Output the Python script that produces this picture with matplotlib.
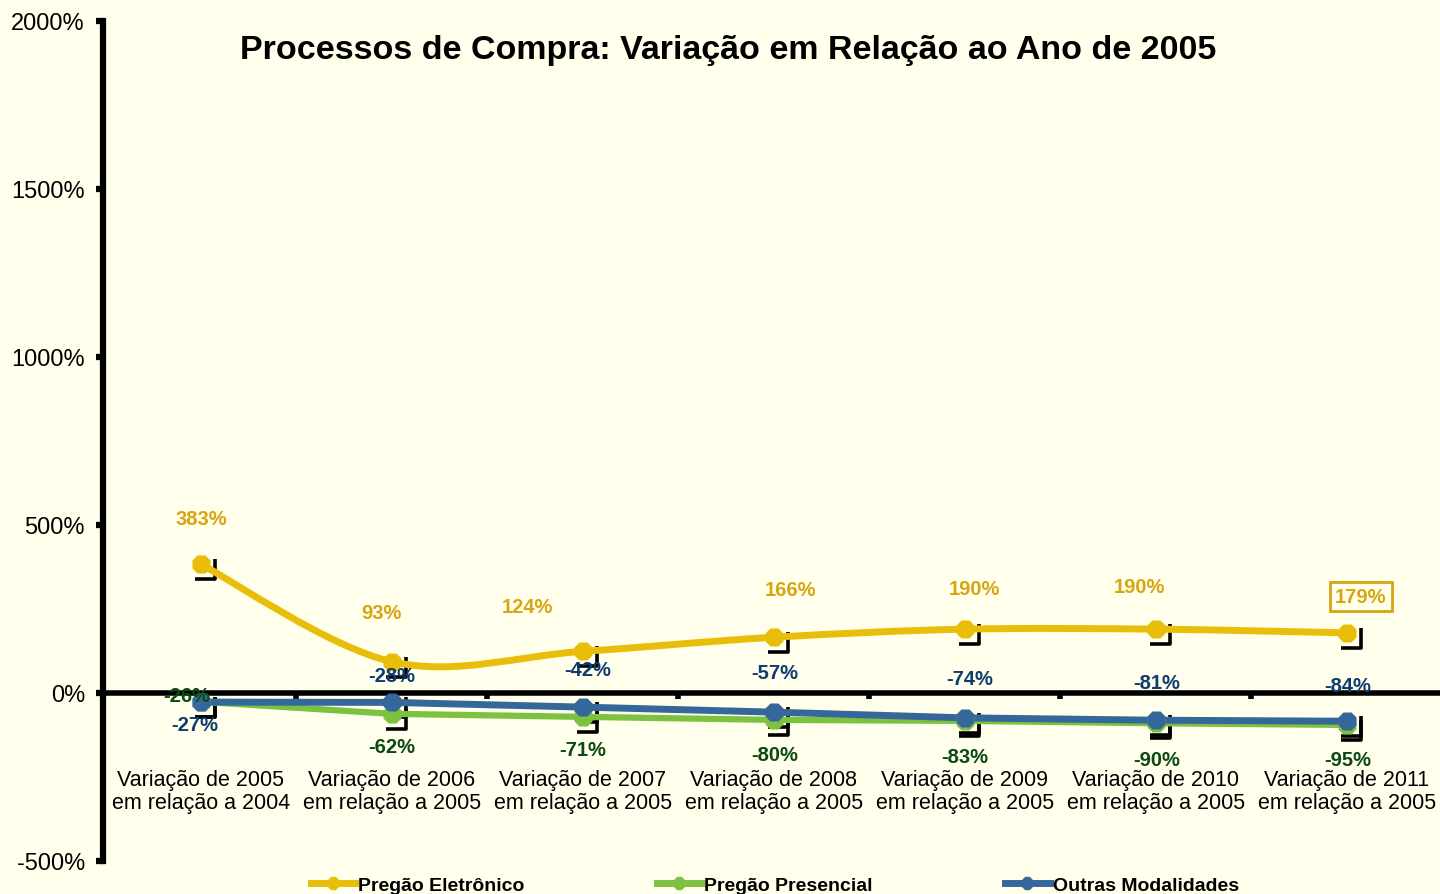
import numpy as np
import matplotlib
matplotlib.use("Agg")
import matplotlib.pyplot as plt
from matplotlib.path import Path
from matplotlib.patches import PathPatch
from matplotlib.lines import Line2D
from matplotlib.transforms import offset_copy

plt.rcParams['font.family'] = ['Liberation Sans', 'DejaVu Sans']

# data
categorias = ["Variação de 2005\nem relação a 2004",
              "Variação de 2006\nem relação a 2005",
              "Variação de 2007\nem relação a 2005",
              "Variação de 2008\nem relação a 2005",
              "Variação de 2009\nem relação a 2005",
              "Variação de 2010\nem relação a 2005",
              "Variação de 2011\nem relação a 2005"]
eletronico = [383, 93, 124, 166, 190, 190, 179]
presencial = [-26, -62, -71, -80, -83, -90, -95]
outras = [-27, -28, -42, -57, -74, -81, -84]
series_nomes = ["Pregão Eletrônico", "Pregão Presencial", "Outras Modalidades"]

# label offsets in pixels (layout)
off_ele = [(0, 46), (-11, 49), (-56, 45), (17, 48), (9, 41), (-17, 43), (14, 36)]
off_pre = [(-14, 6), (0, -33), (0, -33), (1, -35), (0, -36), (1, -36), (1, -35)]
off_out = [(-6, -22), (0, 27), (5, 38), (1, 40), (5, 39), (1, 38), (1, 36)]

bg = '#FFFFEB'
c_ele, c_pre, c_out = '#E9BE0B', '#7CC140', '#35679B'
t_ele, t_pre, t_out = '#D6A512', '#0B4A12', '#0E3C70'

fig = plt.figure(figsize=(14.4, 8.95), dpi=100)
fig.patch.set_facecolor(bg)
ax = fig.add_axes([103/1440, 1-862/895, 1-103/1440, (862-22)/895])
ax.set_facecolor(bg)

x = np.arange(len(categorias))
ax.set_xlim(-0.513, 6.487)
ax.set_ylim(-500, 2000)


def smooth_path(xs, ys):
    pts = np.column_stack([xs, ys]).astype(float)
    n = len(pts)
    verts = [pts[0]]
    codes = [Path.MOVETO]
    for i in range(n-1):
        p0 = pts[max(i-1, 0)]
        p1 = pts[i]
        p2 = pts[i+1]
        p3 = pts[min(i+2, n-1)]
        verts += [p1 + (p2-p0)/6, p2 - (p3-p1)/6, p2]
        codes += [Path.CURVE4]*3
    return Path(verts, codes)


# shadow brackets (right + bottom edge) behind each marker
canto = Path([(1, 1), (1, -1), (-1, -1)], [Path.MOVETO, Path.LINETO, Path.LINETO])
shadow = offset_copy(ax.transData, fig=fig, x=4, y=-5, units='dots')
for ys in (eletronico, presencial, outras):
    ax.plot(x, ys, ls='none', marker=canto, ms=14.4, mfc='none', mec='k', mew=2.6,
            transform=shadow, zorder=3)

ax.add_patch(PathPatch(smooth_path(x, eletronico), fill=False, ec=c_ele, lw=5,
                       capstyle='round', zorder=4))
ax.plot(x, presencial, color=c_pre, lw=4.5, zorder=4)
ax.plot(x, outras, color=c_out, lw=5, zorder=4.2)
for ys, c in ((eletronico, c_ele), (presencial, c_pre), (outras, c_out)):
    ax.plot(x, ys, ls='none', marker='8', ms=14.5, color=c, mec='none', zorder=5)

for ys, offs, c in ((eletronico, off_ele, t_ele), (presencial, off_pre, t_pre),
                    (outras, off_out, t_out)):
    for xi, yi, (dx, dy) in zip(x, ys, offs):
        ax.annotate(f"{yi}%", (xi, yi), xytext=(dx, dy), textcoords='offset pixels',
                    ha='center', va='center', fontsize=14.5, fontweight='bold',
                    color=c, zorder=6)
# boxed last label
last = ax.texts[len(eletronico)-1]
last.set_bbox(dict(boxstyle='square,pad=0.25', fc='none', ec=t_ele, lw=2))

# axes
for s in ('top', 'right'):
    ax.spines[s].set_visible(False)
ax.spines['left'].set_linewidth(4.5)
ax.spines['bottom'].set_position(('data', 0))
ax.spines['bottom'].set_linewidth(4)
ax.set_yticks(np.arange(-500, 2001, 500))
ax.set_yticklabels([f"{v}%" for v in range(-500, 2001, 500)], fontsize=17)
ax.tick_params(axis='y', direction='out', length=5, width=4.5, pad=8)
ax.set_xticks(x[:-1] + 0.5)
ax.set_xticklabels([])
ax.tick_params(axis='x', which='major', direction='out', length=4, width=4)
ax.set_xticks(x, minor=True)
ax.set_xticklabels(categorias, minor=True, fontsize=15.5, linespacing=1.1)
ax.tick_params(axis='x', which='minor', length=0, pad=55)

fig.text(728/1440, 1-50/895, "Processos de Compra: Variação em Relação ao Ano de 2005",
         ha='center', va='center', fontsize=24.5, fontweight='bold')

handles = [Line2D([], [], color=c, lw=5, marker='8', ms=9)
           for c in (c_ele, c_pre, c_out)]
fig.legend(handles, series_nomes, loc='center', bbox_to_anchor=(0.538, 1-886/895),
           ncol=3, frameon=False, prop={'weight': 'bold', 'size': 14},
           handlelength=2.3, handletextpad=0.15, columnspacing=6.8)

fig.savefig("out.png", dpi=100, facecolor=bg)
